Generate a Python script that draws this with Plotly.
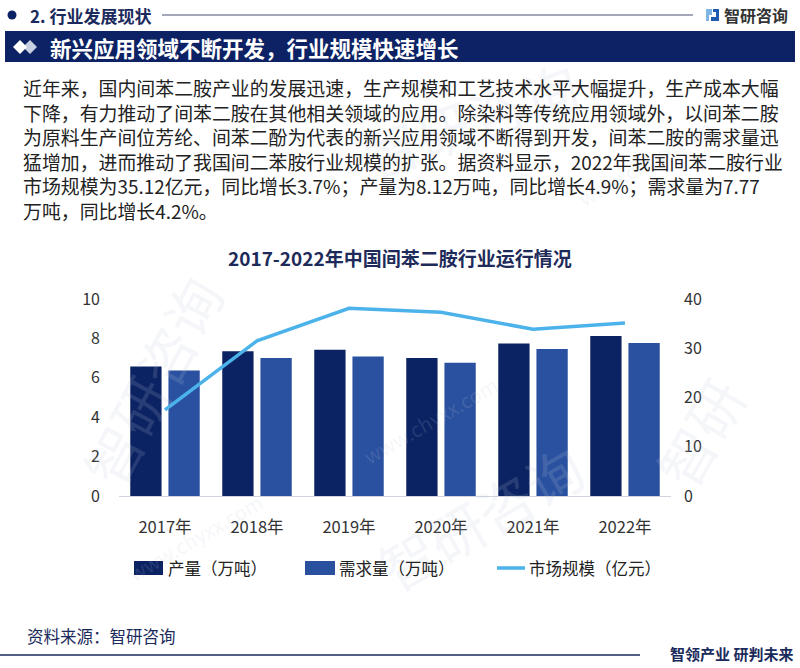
import plotly.graph_objects as go

years = ["2017年", "2018年", "2019年", "2020年", "2021年", "2022年"]
production = [6.57, 7.35, 7.43, 7.01, 7.74, 8.12]     # 产量（万吨）
demand = [6.37, 7.01, 7.08, 6.76, 7.46, 7.77]         # 需求量（万吨）
market = [17.5, 31.5, 38.1, 37.3, 33.87, 35.12]       # 市场规模（亿元）

left_ticks = [0, 2, 4, 6, 8, 10]
right_ticks = [0, 10, 20, 30, 40]

W, H = 800, 668
PL, PR, PT, PB = 119, 671, 299, 496


def px(x):
    return (x - PL) / (PR - PL)


def py(y):
    return (PB - y) / (PB - PT)


FONT = "Noto Sans CJK SC"
NAVY = "#0c2264"
C_PROD = "#0b2263"
C_DEM = "#2a51a0"
C_LINE = "#4cb3ea"

fig = go.Figure()
fig.add_trace(go.Bar(x=years, y=production, name="产量（万吨）", marker_color=C_PROD,
                     marker_line_width=0, showlegend=False))
fig.add_trace(go.Bar(x=years, y=demand, name="需求量（万吨）", marker_color=C_DEM,
                     marker_line_width=0, showlegend=False))
fig.add_trace(go.Scatter(x=years, y=market, name="市场规模（亿元）", mode="lines",
                         line=dict(color=C_LINE, width=3.5), yaxis="y2", showlegend=False))

shapes = []
annotations = []

# watermarks (faint)
wm_color = "rgba(190,198,215,0.16)"
for (x, y, t, s, a) in [
    (60, 380, "智研咨询", 56, -62), (470, 40, "智研咨询", 56, -20),
    (600, 610, "智研咨询", 56, -30), (765, 360, "智研", 56, -60),
    (120, 590, "www.chyxx.com", 20, -30), (430, 420, "www.chyxx.com", 20, -30),
    (720, 110, "www.chyxx.com", 20, -30),
]:
    annotations.append(dict(x=px(x), y=py(y), xref="paper", yref="paper", text=t,
                            showarrow=False, textangle=a,
                            font=dict(family=FONT, size=s, color=wm_color)))

# header
shapes.append(dict(type="circle", xref="paper", yref="paper", x0=px(7.5), x1=px(16.5),
                   y0=py(19.5), y1=py(10.5), fillcolor=NAVY, line_width=0))
annotations.append(dict(x=px(28), y=py(15), xref="paper", yref="paper", xanchor="left",
                        yanchor="middle", text="<b>2. 行业发展现状</b>", showarrow=False,
                        font=dict(family=FONT, size=17, color="#1b2a5c")))
shapes.append(dict(type="line", xref="paper", yref="paper", x0=px(162), x1=px(693),
                   y0=py(15), y1=py(15), line=dict(color="#4a5070", width=1)))
# logo icon
shapes.append(dict(type="path", xref="paper", yref="paper",
                   path=f"M {px(706)},{py(9)} L {px(712)},{py(9)} L {px(712)},{py(15)} "
                        f"L {px(709)},{py(15)} L {px(709)},{py(21)} L {px(706)},{py(21)} Z",
                   fillcolor="#7fb6e6", line_width=0))
shapes.append(dict(type="path", xref="paper", yref="paper",
                   path=f"M {px(713)},{py(9)} L {px(719)},{py(9)} L {px(719)},{py(21)} "
                        f"L {px(711)},{py(21)} L {px(711)},{py(17)} L {px(716)},{py(17)} "
                        f"L {px(716)},{py(12)} L {px(713)},{py(12)} Z",
                   fillcolor="#1d5bb0", line_width=0))
annotations.append(dict(x=px(722), y=py(15), xref="paper", yref="paper", xanchor="left",
                        yanchor="middle", text="<b>智研咨询</b>", showarrow=False,
                        font=dict(family=FONT, size=16, color="#333333")))

# banner
shapes.append(dict(type="rect", xref="paper", yref="paper", x0=px(5), x1=px(795),
                   y0=py(62), y1=py(31), fillcolor=NAVY, line_width=0))
for cx, col in [(30, "#c9cfe2"), (20, "#ffffff")]:
    shapes.append(dict(type="path", xref="paper", yref="paper",
                       path=f"M {px(cx-7)},{py(47)} L {px(cx)},{py(40)} L {px(cx+7)},{py(47)} "
                            f"L {px(cx)},{py(54)} Z",
                       fillcolor=col, line_width=0))
annotations.append(dict(x=px(48), y=py(47), xref="paper", yref="paper", xanchor="left",
                        yanchor="middle", text="<b>新兴应用领域不断开发，行业规模快速增长</b>",
                        showarrow=False, font=dict(family=FONT, size=21.5, color="#ffffff")))

# paragraph
para = [
    "近年来，国内间苯二胺产业的发展迅速，生产规模和工艺技术水平大幅提升，生产成本大幅",
    "下降，有力推动了间苯二胺在其他相关领域的应用。除染料等传统应用领域外，以间苯二胺",
    "为原料生产间位芳纶、间苯二酚为代表的新兴应用领域不断得到开发，间苯二胺的需求量迅",
    "猛增加，进而推动了我国间二苯胺行业规模的扩张。据资料显示，2022年我国间苯二胺行业",
    "市场规模为35.12亿元，同比增长3.7%；产量为8.12万吨，同比增长4.9%；需求量为7.77",
    "万吨，同比增长4.2%。",
]
annotations.append(dict(x=px(21), y=py(72), xref="paper", yref="paper",
                        xanchor="left", yanchor="top", align="left",
                        text="<br>".join(para), showarrow=False,
                        font=dict(family=FONT, size=18.9, color="#222222")))

# chart title
annotations.append(dict(x=px(400), y=py(257), xref="paper", yref="paper", xanchor="center",
                        yanchor="middle", text="<b>2017-2022年中国间苯二胺行业运行情况</b>",
                        showarrow=False, font=dict(family=FONT, size=19, color="#1e2b5a")))

# legend (drawn as key)
LY = 568
shapes.append(dict(type="rect", xref="paper", yref="paper", x0=px(134), x1=px(163),
                   y0=py(LY + 7), y1=py(LY - 7), fillcolor=C_PROD, line_width=0))
shapes.append(dict(type="rect", xref="paper", yref="paper", x0=px(305), x1=px(335),
                   y0=py(LY + 7), y1=py(LY - 7), fillcolor=C_DEM, line_width=0))
shapes.append(dict(type="line", xref="paper", yref="paper", x0=px(497), x1=px(525),
                   y0=py(LY), y1=py(LY), line=dict(color=C_LINE, width=3.5)))
for lx, name in [(166, "产量（万吨）"), (337, "需求量（万吨）"), (527, "市场规模（亿元）")]:
    annotations.append(dict(x=px(lx), y=py(LY), xref="paper", yref="paper", xanchor="left",
                            yanchor="middle", text=name, showarrow=False,
                            font=dict(family=FONT, size=16.5, color="#222222")))

# source & footer
annotations.append(dict(x=px(25), y=py(636), xref="paper", yref="paper", xanchor="left",
                        yanchor="middle", text="资料来源：智研咨询", showarrow=False,
                        font=dict(family=FONT, size=16.5, color="#1b2a5c")))
shapes.append(dict(type="line", xref="paper", yref="paper", x0=px(0), x1=px(640),
                   y0=py(655), y1=py(655), line=dict(color="#1b2a5c", width=1.5)))
annotations.append(dict(x=px(795), y=py(653), xref="paper", yref="paper", xanchor="right",
                        yanchor="middle", text="<b>智领产业 研判未来</b>", showarrow=False,
                        font=dict(family=FONT, size=15, color="#1b2a5c")))

fig.update_layout(
    width=W, height=H,
    margin=dict(l=PL, r=W - PR, t=PT, b=H - PB, pad=0),
    paper_bgcolor="#ffffff", plot_bgcolor="rgba(0,0,0,0)",
    font=dict(family=FONT, size=15, color="#333333"),
    barmode="group", bargap=0.17, bargroupgap=0.18,
    showlegend=False,
    xaxis=dict(showgrid=False, showline=True, linecolor="#d0d4dc", linewidth=1,
               ticks="", ticklabelstandoff=16, tickfont=dict(size=16.5, color="#333333"),
               zeroline=False),
    yaxis=dict(range=[0, 10], tickvals=left_ticks, showgrid=False, zeroline=False,
               showline=False, ticks="", ticklabelstandoff=18,
               tickfont=dict(size=16, color="#333333")),
    yaxis2=dict(range=[0, 40], tickvals=right_ticks, overlaying="y", side="right",
                showgrid=False, zeroline=False, showline=False, ticks="",
                ticklabelstandoff=12, tickfont=dict(size=16, color="#333333")),
    shapes=shapes, annotations=annotations,
)

fig.write_html("out.html", config={"displayModeBar": False},
               post_script="document.body.style.margin='0';document.body.style.overflow='hidden';")
